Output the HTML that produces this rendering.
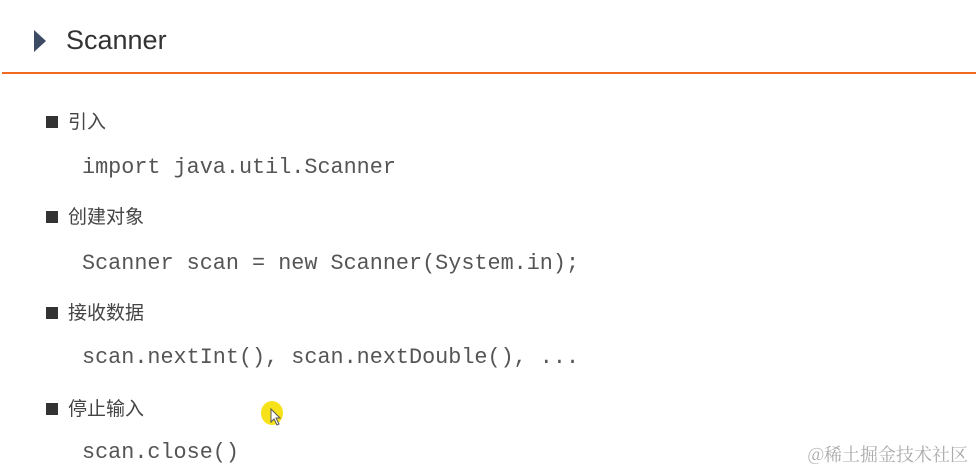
<!DOCTYPE html>
<html><head><meta charset="utf-8"><style>
body{margin:0;width:976px;height:470px;background:#fff;position:relative;overflow:hidden;font-family:"Liberation Sans","Noto Sans CJK SC",sans-serif}
.a{position:absolute;white-space:nowrap}
.t{left:66px;top:25px;font-size:27px;color:#333}
.tri{left:34px;top:30px;width:0;height:0;border-top:11px solid transparent;border-bottom:11px solid transparent;border-left:12px solid #3d4a63}
.line{left:2px;top:72px;width:974px;height:2px;background:#f26a22}
.b{width:12px;height:12px;background:#333;left:46px}
.h{left:68px;font-size:19px;color:#444;line-height:24px}
.c{left:82px;font-family:"Liberation Mono",monospace;font-size:21.8px;color:#555;line-height:24px}
.w{right:8px;top:441px;font-size:18px;color:#aaa;font-family:"Noto Serif CJK SC","Liberation Sans",serif}
</style></head><body>
<div class="a tri"></div>
<div class="a t">Scanner</div>
<div class="a line"></div>
<div class="a b" style="top:116px"></div><div class="a h" style="top:111px">引入</div>
<div class="a c" style="top:156px">import java.util.Scanner</div>
<div class="a b" style="top:211px"></div><div class="a h" style="top:206px">创建对象</div>
<div class="a c" style="top:252px">Scanner scan = new Scanner(System.in);</div>
<div class="a b" style="top:307px"></div><div class="a h" style="top:302px">接收数据</div>
<div class="a c" style="top:346px">scan.nextInt(), scan.nextDouble(), ...</div>
<div class="a b" style="top:403px"></div><div class="a h" style="top:398px">停止输入</div>
<div class="a c" style="top:441px">scan.close()</div>
<div class="a" style="left:261px;top:401px;width:22px;height:24px;border-radius:50%;background:#f7e21a"></div>
<svg class="a" style="left:270px;top:408px" width="12" height="18"><path d="M1 1 L1 14 L4 11 L7 17 L9 16 L6 10 L10 10 Z" fill="#fff" stroke="#555" stroke-width="1"/></svg>
<div class="a w">@稀土掘金技术社区</div>
</body></html>
